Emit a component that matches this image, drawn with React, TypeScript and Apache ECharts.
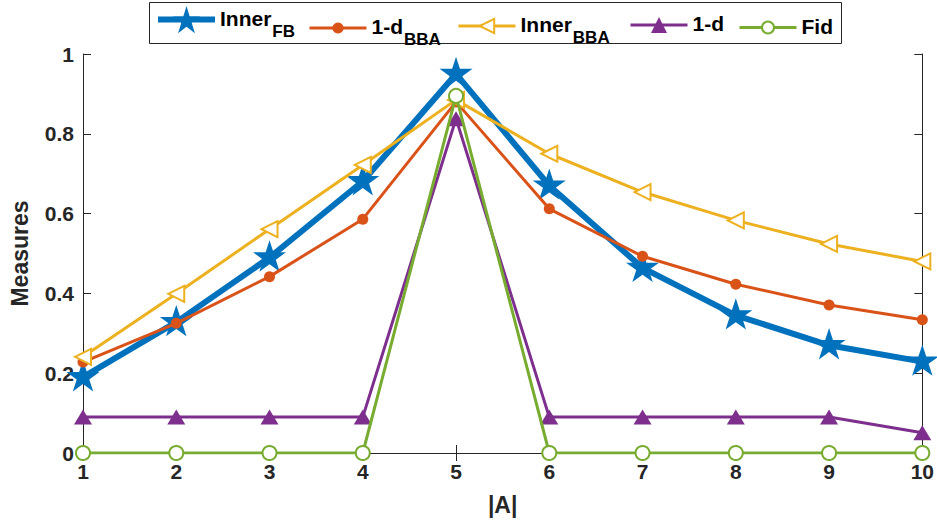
import React, { useEffect, useRef } from "react";
import * as echarts from "echarts";

const xValues = [1, 2, 3, 4, 5, 6, 7, 8, 9, 10];
const innerFB = [0.19, 0.328, 0.49, 0.681, 0.95, 0.67, 0.464, 0.345, 0.27, 0.229];
const oneMinusDBBA = [0.228, 0.325, 0.442, 0.586, 0.88, 0.612, 0.493, 0.423, 0.371, 0.334];
const innerBBA = [0.241, 0.399, 0.561, 0.722, 0.885, 0.75, 0.654, 0.583, 0.524, 0.48];
const oneMinusD = [0.09, 0.09, 0.09, 0.09, 0.838, 0.09, 0.09, 0.09, 0.09, 0.051];
const fid = [0, 0, 0, 0, 0.895, 0, 0, 0, 0, 0];

const seriesNames = ["Inner_FB", "1-d_BBA", "Inner_BBA", "1-d", "Fid"];
const legendLabels = ["{m|Inner}{s|FB}", "{m|1-d}{s|BBA}", "{m|Inner}{s|BBA}", "{m|1-d}", "{m|Fid}"];

const FONT = "'Liberation Sans', Arial, Helvetica, sans-serif";
const AX = "#262626";
const STAR =
  "path://M0,-10 L2.245,-3.09 L9.511,-3.09 L3.633,1.18 L5.878,8.09 L0,3.82 L-5.878,8.09 L-3.633,1.18 L-9.511,-3.09 L-2.245,-3.09 Z";

const colors = ["#0072BD", "#D95319", "#EDB120", "#7E2F8E", "#77AC30"];
const lineWidths = [6, 3, 3, 3, 3];

function pairs(ys: number[]) {
  return xValues.map((x, i) => [x, ys[i]]);
}

export default function App() {
  const ref = useRef<HTMLDivElement>(null);
  useEffect(() => {
    if (!ref.current) return;
    const chart = echarts.init(ref.current, undefined, { renderer: "svg" });

    const legendLefts = [155, 308, 457, 629, 738];
    const legendHeights = [34, 14, 18, 20, 15];
    const legends = seriesNames.map((name, i) => ({
      show: true,
      data: [name],
      left: legendLefts[i],
      top: 23 - legendHeights[i] / 2,
      padding: 0,
      itemWidth: 57,
      itemHeight: legendHeights[i],
      selectedMode: false,
      formatter: () => legendLabels[i],
      lineStyle: { width: lineWidths[i], color: colors[i] },
      textStyle: {
        color: "#000",
        fontFamily: FONT,
        rich: {
          m: { fontSize: 21, fontWeight: "bold", fontFamily: FONT, color: "#000", lineHeight: 24, verticalAlign: "top" },
          s: {
            fontSize: 17,
            fontWeight: "bold",
            fontFamily: FONT,
            color: "#000",
            lineHeight: 17,
            verticalAlign: "top",
            padding: [15, 0, 0, 1],
          },
        },
      },
    }));

    const tickLabel = { fontSize: 21, fontWeight: "bold", fontFamily: FONT, color: AX };
    const axisLine = { show: true, lineStyle: { color: AX, width: 1 } };
    const axisTick = { show: true, inside: true, length: 8, lineStyle: { color: AX, width: 1 } };

    chart.setOption({
      animation: false,
      backgroundColor: "#fff",
      grid: { left: 79, right: 14, top: 54, bottom: 72, containLabel: false },
      legend: legends,
      graphic: [
        {
          type: "rect",
          left: 149,
          top: 2,
          shape: { x: 0, y: 0, width: 692, height: 41 },
          style: { fill: "#fff", stroke: AX, lineWidth: 1 },
          z: -1,
        },
      ],
      xAxis: [
        {
          type: "value",
          min: 1,
          max: 10,
          interval: 1,
          position: "bottom",
          name: "|A|",
          nameLocation: "middle",
          nameGap: 40,
          nameTextStyle: { fontSize: 23, fontWeight: "bold", fontFamily: FONT, color: AX },
          axisLine,
          axisTick,
          axisLabel: { ...tickLabel, margin: 8 },
          splitLine: { show: false },
        },
        {
          type: "value",
          min: 1,
          max: 10,
          interval: 1,
          position: "top",
          axisLine,
          axisTick,
          axisLabel: { show: false },
          splitLine: { show: false },
        },
      ],
      yAxis: [
        {
          type: "value",
          min: 0,
          max: 1,
          interval: 0.2,
          position: "left",
          name: "Measures",
          nameLocation: "middle",
          nameGap: 52,
          nameTextStyle: { fontSize: 23, fontWeight: "bold", fontFamily: FONT, color: AX },
          axisLine,
          axisTick,
          axisLabel: { ...tickLabel, margin: 9 },
          splitLine: { show: false },
        },
        {
          type: "value",
          min: 0,
          max: 1,
          interval: 0.2,
          position: "right",
          axisLine,
          axisTick,
          axisLabel: { show: false },
          splitLine: { show: false },
        },
      ],
      series: [
        {
          name: seriesNames[0],
          type: "line",
          data: pairs(innerFB),
          symbol: STAR,
          symbolSize: 33,
          symbolKeepAspect: true,
          symbolOffset: [0, -1.5],
          lineStyle: { color: colors[0], width: lineWidths[0] },
          itemStyle: { color: colors[0] },
          z: 2,
        },
        {
          name: seriesNames[1],
          type: "line",
          data: pairs(oneMinusDBBA),
          symbol: "circle",
          symbolSize: 11,
          lineStyle: { color: colors[1], width: lineWidths[1] },
          itemStyle: { color: colors[1] },
          z: 3,
        },
        {
          name: seriesNames[2],
          type: "line",
          data: pairs(innerBBA),
          symbol: "emptyTriangle",
          symbolRotate: 90,
          symbolSize: 16,
          lineStyle: { color: colors[2], width: lineWidths[2] },
          itemStyle: { color: colors[2], borderWidth: 3 },
          z: 4,
        },
        {
          name: seriesNames[3],
          type: "line",
          data: pairs(oneMinusD),
          symbol: "triangle",
          symbolSize: [18, 15],
          lineStyle: { color: colors[3], width: lineWidths[3] },
          itemStyle: { color: colors[3] },
          z: 5,
        },
        {
          name: seriesNames[4],
          type: "line",
          data: pairs(fid),
          symbol: "emptyCircle",
          symbolSize: 14,
          lineStyle: { color: colors[4], width: lineWidths[4] },
          itemStyle: { color: colors[4], borderWidth: 3 },
          z: 6,
        },
      ],
    });
    return () => chart.dispose();
  }, []);
  return <div ref={ref} style={{ width: 937, height: 525, position: "absolute", left: 0, top: 0 }} />;
}
